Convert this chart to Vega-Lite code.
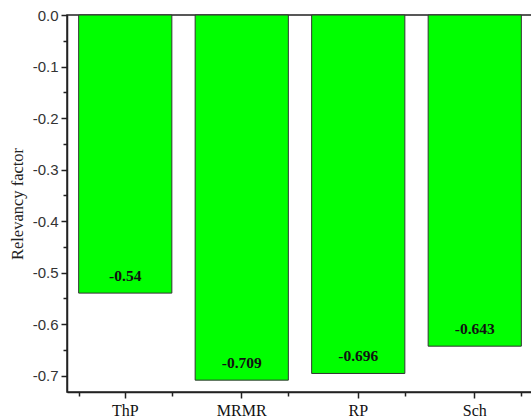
{
  "$schema": "https://vega.github.io/schema/vega-lite/v6.json",
  "autosize": "none",
  "width": 466,
  "height": 377,
  "padding": {"left": 67, "top": 15, "right": 0, "bottom": 28},
  "background": "white",
  "config": {
    "font": "Liberation Serif",
    "view": {"stroke": "#222", "strokeWidth": 1.5},
    "axis": {
      "labelFont": "Liberation Serif",
      "titleFont": "Liberation Serif",
      "labelColor": "#222",
      "titleColor": "#222",
      "domainColor": "#222",
      "tickColor": "#222",
      "domainWidth": 1.5,
      "tickWidth": 1.5,
      "grid": false
    }
  },
  "data": {
    "values": [
      {"method": "ThP", "value": -0.54, "label": "-0.54"},
      {"method": "MRMR", "value": -0.709, "label": "-0.709"},
      {"method": "RP", "value": -0.696, "label": "-0.696"},
      {"method": "Sch", "value": -0.643, "label": "-0.643"}
    ]
  },
  "resolve": {"axis": {"x": "independent", "y": "independent"}},
  "layer": [
    {
      "mark": {"type": "bar", "fill": "#00ff00", "stroke": "#333", "strokeWidth": 1},
      "encoding": {
        "x": {
          "field": "method", "type": "nominal", "sort": null,
          "scale": {"paddingInner": 0.2, "paddingOuter": 0.1},
          "axis": {"orient": "bottom", "title": null, "labelAngle": 0, "labelFontSize": 16, "tickSize": 6, "labelPadding": 4, "labelColor": "#111"}
        },
        "y": {
          "field": "value", "type": "quantitative",
          "scale": {"domain": [-0.732, 0], "nice": false, "zero": false},
          "axis": {"orient": "left", "title": "Relevancy factor", "titleFontSize": 16.5, "titleFontWeight": "normal",
                   "values": [0, -0.1, -0.2, -0.3, -0.4, -0.5, -0.6, -0.7],
                   "labelExpr": "replace(format(datum.value, '.1f'), '\u2212', '-')",
                   "labelFont": "Liberation Sans", "labelColor": "#333",
                   "labelFontSize": 15, "tickSize": 6, "labelPadding": 3, "titlePadding": 7}
        }
      }
    },
    {
      "mark": {"type": "text", "fontWeight": "bold", "fontSize": 15.5, "color": "#111", "baseline": "middle", "dy": -17},
      "encoding": {
        "x": {
          "field": "method", "type": "nominal", "sort": null,
          "axis": {"orient": "bottom", "title": null, "labels": false, "domain": false, "tickBand": "extent", "tickSize": 4}
        },
        "y": {
          "field": "value", "type": "quantitative",
          "axis": {"orient": "left", "title": null, "labels": false, "domain": false, "tickSize": 4,
                   "values": [-0.05, -0.15, -0.25, -0.35, -0.45, -0.55, -0.65]}
        },
        "text": {"field": "label"}
      }
    }
  ]
}
